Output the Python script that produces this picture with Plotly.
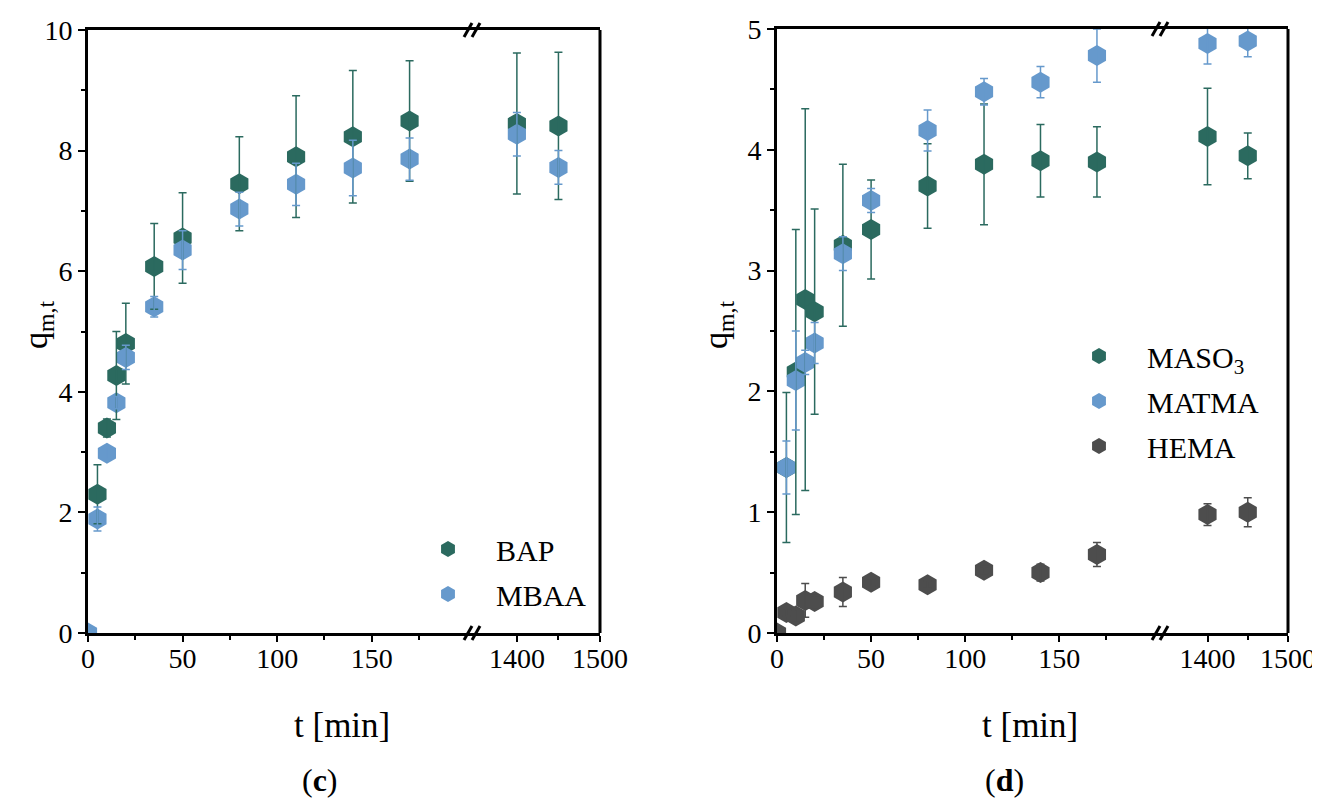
import plotly.graph_objects as go

# page body has an 8 px margin, so the figure is drawn 8 px in from the window
W, H = 1320, 798
OX, OY = 8, 8
def fx(p): return (p - OX) / W
def fy(p): return 1 - (p - OY) / H

FONT = "Liberation Serif"
GREEN = "#2b6a5f"
BLUE = "#6699cc"
GRAY = "#4d4d4d"

# ---------------- data: panel (c) ----------------
t_c = [0, 5, 10, 15, 20, 35, 50, 80, 110, 140, 170, 1400, 1450]
bap = [None, 2.30, 3.40, 4.27, 4.80, 6.08, 6.55, 7.45, 7.90, 8.23, 8.49, 8.45, 8.41]
bap_err = [None, 0.49, 0.15, 0.73, 0.67, 0.71, 0.75, 0.78, 1.01, 1.10, 1.00, 1.17, 1.22]
mbaa = [0.0, 1.89, 2.98, 3.82, 4.57, 5.41, 6.35, 7.03, 7.44, 7.71, 7.86, 8.27, 7.72]
mbaa_err = [0.0, 0.20, 0.10, 0.10, 0.20, 0.17, 0.32, 0.28, 0.35, 0.46, 0.35, 0.36, 0.28]

# ---------------- data: panel (d) ----------------
t_d = [0, 5, 10, 15, 20, 35, 50, 80, 110, 140, 170, 1400, 1450]
maso3 = [None, 1.37, 2.16, 2.76, 2.66, 3.21, 3.34, 3.70, 3.88, 3.91, 3.90, 4.11, 3.95]
maso3_err = [None, 0.62, 1.18, 1.58, 0.85, 0.67, 0.41, 0.35, 0.50, 0.30, 0.29, 0.40, 0.19]
matma = [None, 1.37, 2.09, 2.24, 2.40, 3.14, 3.58, 4.16, 4.48, 4.56, 4.78, 4.88, 4.90]
matma_err = [None, 0.22, 0.41, 0.10, 0.17, 0.14, 0.10, 0.17, 0.11, 0.13, 0.22, 0.17, 0.13]
hema = [0.0, 0.17, 0.14, 0.27, 0.26, 0.34, 0.42, 0.40, 0.52, 0.50, 0.65, 0.98, 1.00]
hema_err = [0.0, 0.03, 0.05, 0.14, 0.05, 0.12, 0.03, 0.03, 0.03, 0.07, 0.10, 0.09, 0.12]

BREAK = 1000  # split between the short-time and long-time axis segments

def split(ts, vs, es):
    lo = [(t, v, e) for t, v, e in zip(ts, vs, es) if t < BREAK]
    hi = [(t, v, e) for t, v, e in zip(ts, vs, es) if t >= BREAK]
    return lo, hi

fig = go.Figure()

def add_series(ts, vs, es, name, color, xa, xb, ya, legend):
    lo, hi = split(ts, vs, es)
    for part, xax, sl in ((lo, xa, True), (hi, xb, False)):
        fig.add_trace(go.Scatter(
            x=[p[0] for p in part], y=[p[1] for p in part],
            mode="markers", name=name, legend=legend, showlegend=sl, legendgroup=name,
            marker=dict(symbol="hexagon", size=21, color=color, line=dict(width=0)),
            xaxis=xax, yaxis=ya, hoverinfo="x+y"))

def add_errors(ts, vs, es, color, xa, xb, ya):
    lo, hi = split(ts, vs, es)
    for part, xax in ((lo, xa), (hi, xb)):
        fig.add_trace(go.Scatter(
            x=[p[0] for p in part], y=[p[1] for p in part],
            mode="markers", showlegend=False,
            marker=dict(size=1, opacity=0, color=color),
            error_y=dict(type="data", array=[p[2] for p in part], color=color,
                         thickness=1.5, width=4),
            xaxis=xax, yaxis=ya, hoverinfo="skip"))

# panel (c)
add_series(t_c, bap, bap_err, "BAP", GREEN, "x", "x2", "y", "legend")
add_series(t_c, mbaa, mbaa_err, "MBAA", BLUE, "x", "x2", "y", "legend")
add_errors(t_c, bap, bap_err, GREEN, "x", "x2", "y")
add_errors(t_c, mbaa, mbaa_err, BLUE, "x", "x2", "y")

# panel (d)
add_series(t_d, maso3, maso3_err, "MASO<sub>3</sub>", GREEN, "x3", "x4", "y2", "legend2")
add_series(t_d, matma, matma_err, "MATMA", BLUE, "x3", "x4", "y2", "legend2")
add_series(t_d, hema, hema_err, "HEMA", GRAY, "x3", "x4", "y2", "legend2")
add_errors(t_d, maso3, maso3_err, GREEN, "x3", "x4", "y2")
add_errors(t_d, matma, matma_err, BLUE, "x3", "x4", "y2")
add_errors(t_d, hema, hema_err, GRAY, "x3", "x4", "y2")

tickfont = dict(family=FONT, size=28, color="black")

def xax(domain, rng, tickvals, minor_vals, anchor):
    return dict(domain=domain, range=rng, anchor=anchor, showgrid=False, zeroline=False,
                automargin=False,
                showline=True, linewidth=3, linecolor="black", mirror=True,
                ticks="outside", ticklen=6, tickwidth=2, tickcolor="black",
                ticklabelstandoff=-8,
                tickvals=tickvals, ticktext=[str(v) for v in tickvals], tickfont=tickfont,
                minor=dict(tickvals=minor_vals, ticks="outside", ticklen=4, tickwidth=2,
                           tickcolor="black", showgrid=False))

def yax(domain, rng, dtick, minor_vals, anchor):
    return dict(domain=domain, range=rng, anchor=anchor, showgrid=False, zeroline=False,
                automargin=False,
                showline=True, linewidth=3, linecolor="black",
                ticks="outside", ticklen=7, tickwidth=2, tickcolor="black",
                dtick=dtick, tick0=0, tickfont=tickfont,
                minor=dict(tickvals=minor_vals, ticks="outside", ticklen=4, tickwidth=2,
                           tickcolor="black", showgrid=False))

legfont = dict(family=FONT, size=30, color="black")
fig.update_layout(
    width=W, height=H, margin=dict(l=0, r=0, t=0, b=0, autoexpand=False),
    paper_bgcolor="white", plot_bgcolor="white",
    font=dict(family=FONT, color="black"),
    xaxis=xax([fx(88), fx(472)], [0, 203], [0, 50, 100, 150], [25, 75, 125, 175], "y"),
    xaxis2=xax([fx(472), fx(600)], [1346, 1500], [1400, 1500], [1450], "y"),
    xaxis3=xax([fx(777), fx(1160)], [0, 203.5], [0, 50, 100, 150], [25, 75, 125, 175], "y2"),
    xaxis4=xax([fx(1160), fx(1288)], [1341, 1500], [1400, 1500], [1450], "y2"),
    yaxis=yax([fy(633), fy(30)], [0, 10], 2, [1, 3, 5, 7, 9], "x"),
    yaxis2=yax([fy(633), fy(29)], [0, 5], 1, [0.5, 1.5, 2.5, 3.5, 4.5], "x3"),
    legend=dict(x=fx(400), y=fy(523), xanchor="left", yanchor="top",
                bgcolor="rgba(0,0,0,0)", font=legfont, itemwidth=86,
                traceorder="grouped", tracegroupgap=3),
    legend2=dict(x=fx(1051), y=fy(330), xanchor="left", yanchor="top",
                 bgcolor="rgba(0,0,0,0)", font=legfont, itemwidth=86,
                 traceorder="grouped", tracegroupgap=3),
)

shapes = []
# right-hand frame lines
for xr, yt in ((600, 30), (1288, 29)):
    shapes.append(dict(type="line", xref="paper", yref="paper",
                       x0=fx(xr), x1=fx(xr), y0=fy(633), y1=fy(yt),
                       line=dict(color="black", width=3)))
# axis-break marks
for bx, ys in ((472, (30, 633)), (1160, (29, 633))):
    for yy in ys:
        for dx in (-4, 4):
            shapes.append(dict(type="line", xref="paper", yref="paper",
                               x0=fx(bx + dx - 4), x1=fx(bx + dx + 4),
                               y0=fy(yy + 7), y1=fy(yy - 7),
                               line=dict(color="black", width=3)))
fig.update_layout(shapes=shapes)

ann = []
for xc, yc in ((38, 325), (718, 325)):
    ann.append(dict(text="q<sub>m,t</sub>", x=fx(xc), y=fy(yc), xref="paper", yref="paper",
                    xanchor="center", yanchor="middle",
                    showarrow=False, textangle=-90, font=dict(family=FONT, size=34, color="black")))
for xc in (342, 1030):
    ann.append(dict(text="t [min]", x=fx(xc), y=fy(725), xref="paper", yref="paper",
                    xanchor="center", yanchor="middle",
                    showarrow=False, font=dict(family=FONT, size=35, color="black")))
for xc, lab in ((320, "c"), (1005, "d")):
    ann.append(dict(text="(<b>" + lab + "</b>)", x=fx(xc), y=fy(780), xref="paper", yref="paper",
                    xanchor="center", yanchor="middle",
                    showarrow=False, font=dict(family=FONT, size=32, color="black")))
fig.update_layout(annotations=ann)

fig.write_html("out.html")
